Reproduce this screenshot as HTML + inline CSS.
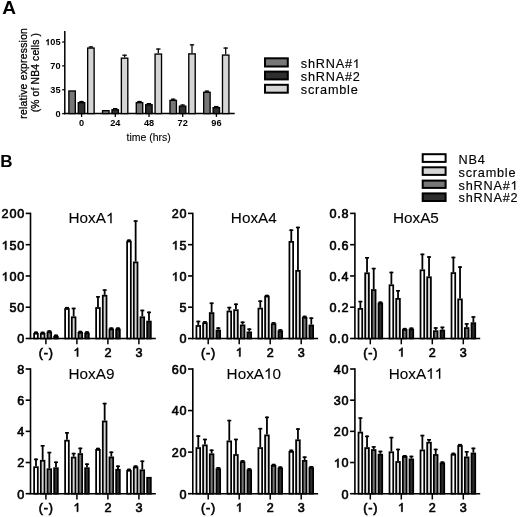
<!DOCTYPE html>
<html><head><meta charset="utf-8"><style>
html,body{margin:0;padding:0;background:#fff;}
svg{display:block;filter:grayscale(1) blur(0.3px);}
text{font-family:"Liberation Sans", sans-serif;fill:#000;}
</style></head><body>
<svg width="520" height="517" viewBox="0 0 520 517">
<rect width="520" height="517" fill="#fff"/>
<text transform="translate(2.20,13.70) scale(1.09,1)" font-size="17.5" text-anchor="start" font-weight="bold" >A</text>
<line x1="64.8" y1="31" x2="64.8" y2="114.3" stroke="#000" stroke-width="1.5"/>
<line x1="64.05" y1="113.6" x2="234.7" y2="113.6" stroke="#000" stroke-width="1.5"/>
<line x1="62.199999999999996" y1="113.60" x2="64.8" y2="113.60" stroke="#000" stroke-width="1.3"/>
<text x="60.50" y="116.90" font-size="9.2" text-anchor="end" font-weight="bold" >0</text>
<line x1="62.199999999999996" y1="89.73" x2="64.8" y2="89.73" stroke="#000" stroke-width="1.3"/>
<text x="60.50" y="93.03" font-size="9.2" text-anchor="end" font-weight="bold" >35</text>
<line x1="62.199999999999996" y1="65.87" x2="64.8" y2="65.87" stroke="#000" stroke-width="1.3"/>
<text x="60.50" y="69.17" font-size="9.2" text-anchor="end" font-weight="bold" >70</text>
<line x1="62.199999999999996" y1="42.00" x2="64.8" y2="42.00" stroke="#000" stroke-width="1.3"/>
<text id="one0" x="60.50" y="45.30" font-size="9.2" text-anchor="end" font-weight="bold" > 05</text>
<path transform="translate(45.16,45.30) scale(0.00449,-0.00449)" d="M809 0L528 0L528 1000Q374 862 165 795L165 1037Q275 1072 404 1168Q533 1265 581 1409L809 1409Z"/>
<rect x="68.87" y="90.97" width="6.45" height="22.62" fill="#777777" stroke="#000" stroke-width="1.35"/>
<line x1="81.50" y1="102.00" x2="81.50" y2="100.90" stroke="#000" stroke-width="1.25"/>
<line x1="79.30" y1="101.55" x2="83.70" y2="101.55" stroke="#000" stroke-width="1.3"/>
<rect x="78.27" y="102.67" width="6.45" height="10.92" fill="#2e2e2e" stroke="#000" stroke-width="1.35"/>
<line x1="90.90" y1="47.40" x2="90.90" y2="46.30" stroke="#000" stroke-width="1.25"/>
<line x1="88.70" y1="46.95" x2="93.10" y2="46.95" stroke="#000" stroke-width="1.3"/>
<rect x="87.67" y="48.07" width="6.45" height="65.52" fill="#d5d5d5" stroke="#000" stroke-width="1.35"/>
<line x1="81.60" y1="113.6" x2="81.60" y2="116.89999999999999" stroke="#000" stroke-width="1.3"/>
<text x="81.60" y="126.00" font-size="9.2" text-anchor="middle" font-weight="bold" >0</text>
<rect x="102.57" y="110.67" width="6.45" height="2.92" fill="#777777" stroke="#000" stroke-width="1.35"/>
<line x1="115.20" y1="109.10" x2="115.20" y2="108.00" stroke="#000" stroke-width="1.25"/>
<line x1="113.00" y1="108.65" x2="117.40" y2="108.65" stroke="#000" stroke-width="1.3"/>
<rect x="111.97" y="109.77" width="6.45" height="3.83" fill="#2e2e2e" stroke="#000" stroke-width="1.35"/>
<line x1="124.60" y1="57.50" x2="124.60" y2="54.60" stroke="#000" stroke-width="1.25"/>
<line x1="122.40" y1="55.25" x2="126.80" y2="55.25" stroke="#000" stroke-width="1.3"/>
<rect x="121.37" y="58.17" width="6.45" height="55.42" fill="#d5d5d5" stroke="#000" stroke-width="1.35"/>
<line x1="115.30" y1="113.6" x2="115.30" y2="116.89999999999999" stroke="#000" stroke-width="1.3"/>
<text x="115.30" y="126.00" font-size="9.2" text-anchor="middle" font-weight="bold" >24</text>
<line x1="139.50" y1="102.00" x2="139.50" y2="100.90" stroke="#000" stroke-width="1.25"/>
<line x1="137.30" y1="101.55" x2="141.70" y2="101.55" stroke="#000" stroke-width="1.3"/>
<rect x="136.28" y="102.67" width="6.45" height="10.92" fill="#777777" stroke="#000" stroke-width="1.35"/>
<line x1="148.90" y1="104.10" x2="148.90" y2="103.00" stroke="#000" stroke-width="1.25"/>
<line x1="146.70" y1="103.65" x2="151.10" y2="103.65" stroke="#000" stroke-width="1.3"/>
<rect x="145.68" y="104.77" width="6.45" height="8.82" fill="#2e2e2e" stroke="#000" stroke-width="1.35"/>
<line x1="158.30" y1="53.40" x2="158.30" y2="48.40" stroke="#000" stroke-width="1.25"/>
<line x1="156.10" y1="49.05" x2="160.50" y2="49.05" stroke="#000" stroke-width="1.3"/>
<rect x="155.08" y="54.07" width="6.45" height="59.52" fill="#d5d5d5" stroke="#000" stroke-width="1.35"/>
<line x1="149.00" y1="113.6" x2="149.00" y2="116.89999999999999" stroke="#000" stroke-width="1.3"/>
<text x="149.00" y="126.00" font-size="9.2" text-anchor="middle" font-weight="bold" >48</text>
<line x1="173.20" y1="99.70" x2="173.20" y2="98.60" stroke="#000" stroke-width="1.25"/>
<line x1="171.00" y1="99.25" x2="175.40" y2="99.25" stroke="#000" stroke-width="1.3"/>
<rect x="169.97" y="100.38" width="6.45" height="13.22" fill="#777777" stroke="#000" stroke-width="1.35"/>
<line x1="182.60" y1="105.50" x2="182.60" y2="104.40" stroke="#000" stroke-width="1.25"/>
<line x1="180.40" y1="105.05" x2="184.80" y2="105.05" stroke="#000" stroke-width="1.3"/>
<rect x="179.38" y="106.17" width="6.45" height="7.42" fill="#2e2e2e" stroke="#000" stroke-width="1.35"/>
<line x1="192.00" y1="53.20" x2="192.00" y2="44.20" stroke="#000" stroke-width="1.25"/>
<line x1="189.80" y1="44.85" x2="194.20" y2="44.85" stroke="#000" stroke-width="1.3"/>
<rect x="188.78" y="53.88" width="6.45" height="59.72" fill="#d5d5d5" stroke="#000" stroke-width="1.35"/>
<line x1="182.70" y1="113.6" x2="182.70" y2="116.89999999999999" stroke="#000" stroke-width="1.3"/>
<text x="182.70" y="126.00" font-size="9.2" text-anchor="middle" font-weight="bold" >72</text>
<line x1="206.90" y1="91.60" x2="206.90" y2="90.50" stroke="#000" stroke-width="1.25"/>
<line x1="204.70" y1="91.15" x2="209.10" y2="91.15" stroke="#000" stroke-width="1.3"/>
<rect x="203.68" y="92.27" width="6.45" height="21.32" fill="#777777" stroke="#000" stroke-width="1.35"/>
<line x1="216.30" y1="107.00" x2="216.30" y2="105.90" stroke="#000" stroke-width="1.25"/>
<line x1="214.10" y1="106.55" x2="218.50" y2="106.55" stroke="#000" stroke-width="1.3"/>
<rect x="213.08" y="107.67" width="6.45" height="5.92" fill="#2e2e2e" stroke="#000" stroke-width="1.35"/>
<line x1="225.70" y1="54.40" x2="225.70" y2="47.40" stroke="#000" stroke-width="1.25"/>
<line x1="223.50" y1="48.05" x2="227.90" y2="48.05" stroke="#000" stroke-width="1.3"/>
<rect x="222.48" y="55.07" width="6.45" height="58.52" fill="#d5d5d5" stroke="#000" stroke-width="1.35"/>
<line x1="216.40" y1="113.6" x2="216.40" y2="116.89999999999999" stroke="#000" stroke-width="1.3"/>
<text x="216.40" y="126.00" font-size="9.2" text-anchor="middle" font-weight="bold" >96</text>
<text x="148.70" y="140.50" font-size="10.5" text-anchor="middle" font-weight="normal" stroke="#000" stroke-width="0.1" >time (hrs)</text>
<text transform="translate(26.8,73.3) rotate(-90)" font-size="10.3" letter-spacing="0.26" stroke="#000" stroke-width="0.3" text-anchor="middle">relative expression</text>
<text transform="translate(39.0,72.6) rotate(-90)" font-size="10.3" letter-spacing="0.16" stroke="#000" stroke-width="0.3" text-anchor="middle">(% of NB4 cells )</text>
<rect x="265" y="58.3" width="22.8" height="8.200000000000003" fill="#777777" stroke="#000" stroke-width="2"/>
<rect x="265" y="71.6" width="22.8" height="7.800000000000011" fill="#2e2e2e" stroke="#000" stroke-width="2"/>
<rect x="265" y="84.8" width="22.8" height="7.900000000000006" fill="#d5d5d5" stroke="#000" stroke-width="2"/>
<text id="one1" x="300.80" y="68.00" font-size="12.7" text-anchor="start" font-weight="normal" stroke="#000" stroke-width="0.15" letter-spacing="0.78">shRNA# </text>
<path transform="translate(352.72,68.00) scale(0.00620,-0.00620)" d="M763 0L583 0L583 1110Q518 1050 413 990Q308 930 223 898L223 1066Q374 1135 487 1233Q600 1331 647 1409L763 1409Z" stroke="#000" stroke-width="24.2"/>
<text x="300.80" y="80.70" font-size="12.7" text-anchor="start" font-weight="normal" stroke="#000" stroke-width="0.15" letter-spacing="0.78">shRNA#2</text>
<text x="300.80" y="94.00" font-size="12.7" text-anchor="start" font-weight="normal" stroke="#000" stroke-width="0.15" letter-spacing="0.78">scramble</text>
<text x="0.30" y="167.30" font-size="17" text-anchor="start" font-weight="bold" >B</text>
<rect x="422.7" y="154.2" width="22.9" height="7.700000000000017" fill="#ffffff" stroke="#000" stroke-width="2"/>
<rect x="422.7" y="167.3" width="22.9" height="7.599999999999994" fill="#d5d5d5" stroke="#000" stroke-width="2"/>
<rect x="422.7" y="180.6" width="22.9" height="7.300000000000011" fill="#777777" stroke="#000" stroke-width="2"/>
<rect x="422.7" y="193.4" width="22.9" height="7.599999999999994" fill="#2e2e2e" stroke="#000" stroke-width="2"/>
<text x="458.60" y="163.50" font-size="12.7" text-anchor="start" font-weight="normal" stroke="#000" stroke-width="0.15" letter-spacing="0.78">NB4</text>
<text x="458.60" y="176.60" font-size="12.7" text-anchor="start" font-weight="normal" stroke="#000" stroke-width="0.15" letter-spacing="0.78">scramble</text>
<text id="one2" x="458.60" y="189.70" font-size="12.7" text-anchor="start" font-weight="normal" stroke="#000" stroke-width="0.15" letter-spacing="0.78">shRNA# </text>
<path transform="translate(510.52,189.70) scale(0.00620,-0.00620)" d="M763 0L583 0L583 1110Q518 1050 413 990Q308 930 223 898L223 1066Q374 1135 487 1233Q600 1331 647 1409L763 1409Z" stroke="#000" stroke-width="24.2"/>
<text x="458.60" y="202.10" font-size="12.7" text-anchor="start" font-weight="normal" stroke="#000" stroke-width="0.15" letter-spacing="0.78">shRNA#2</text>
<line x1="30.5" y1="212.70000000000002" x2="30.5" y2="339.2" stroke="#000" stroke-width="1.6"/>
<line x1="30.5" y1="338.5" x2="155.8" y2="338.5" stroke="#000" stroke-width="1.5"/>
<line x1="25.7" y1="338.50" x2="30.5" y2="338.50" stroke="#000" stroke-width="1.6"/>
<text x="25.00" y="343.40" font-size="12.6" text-anchor="end" font-weight="normal" stroke="#000" stroke-width="0.62" letter-spacing="0.8">0</text>
<line x1="25.7" y1="307.23" x2="30.5" y2="307.23" stroke="#000" stroke-width="1.6"/>
<text x="25.00" y="312.12" font-size="12.6" text-anchor="end" font-weight="normal" stroke="#000" stroke-width="0.62" letter-spacing="0.8">50</text>
<line x1="25.7" y1="275.95" x2="30.5" y2="275.95" stroke="#000" stroke-width="1.6"/>
<text id="one3" x="25.00" y="280.85" font-size="12.6" text-anchor="end" font-weight="normal" stroke="#000" stroke-width="0.62" letter-spacing="0.8"> 00</text>
<path transform="translate(1.58,280.85) scale(0.00615,-0.00615)" d="M763 0L583 0L583 1110Q518 1050 413 990Q308 930 223 898L223 1066Q374 1135 487 1233Q600 1331 647 1409L763 1409Z" stroke="#000" stroke-width="100.8"/>
<line x1="25.7" y1="244.68" x2="30.5" y2="244.68" stroke="#000" stroke-width="1.6"/>
<text id="one4" x="25.00" y="249.58" font-size="12.6" text-anchor="end" font-weight="normal" stroke="#000" stroke-width="0.62" letter-spacing="0.8"> 50</text>
<path transform="translate(1.58,249.58) scale(0.00615,-0.00615)" d="M763 0L583 0L583 1110Q518 1050 413 990Q308 930 223 898L223 1066Q374 1135 487 1233Q600 1331 647 1409L763 1409Z" stroke="#000" stroke-width="100.8"/>
<line x1="25.7" y1="213.40" x2="30.5" y2="213.40" stroke="#000" stroke-width="1.6"/>
<text x="25.00" y="218.30" font-size="12.6" text-anchor="end" font-weight="normal" stroke="#000" stroke-width="0.62" letter-spacing="0.8">200</text>
<text id="one5" x="91.50" y="223.20" font-size="15.3" text-anchor="middle" font-weight="normal" stroke="#000" stroke-width="0.1" >HoxA </text>
<path transform="translate(105.93,223.20) scale(0.00747,-0.00747)" d="M763 0L583 0L583 1110Q518 1050 413 990Q308 930 223 898L223 1066Q374 1135 487 1233Q600 1331 647 1409L763 1409Z" stroke="#000" stroke-width="13.4"/>
<line x1="35.98" y1="332.80" x2="35.98" y2="331.60" stroke="#000" stroke-width="1.8"/>
<line x1="33.98" y1="332.40" x2="37.98" y2="332.40" stroke="#000" stroke-width="1.6"/>
<rect x="34.12" y="333.68" width="3.70" height="4.82" fill="#ffffff" stroke="#000" stroke-width="1.75"/>
<line x1="42.65" y1="332.90" x2="42.65" y2="331.70" stroke="#000" stroke-width="1.8"/>
<line x1="40.65" y1="332.50" x2="44.65" y2="332.50" stroke="#000" stroke-width="1.6"/>
<rect x="40.80" y="333.77" width="3.70" height="4.73" fill="#d5d5d5" stroke="#000" stroke-width="1.75"/>
<line x1="49.32" y1="331.50" x2="49.32" y2="330.30" stroke="#000" stroke-width="1.8"/>
<line x1="47.32" y1="331.10" x2="51.32" y2="331.10" stroke="#000" stroke-width="1.6"/>
<rect x="47.47" y="332.38" width="3.70" height="6.12" fill="#777777" stroke="#000" stroke-width="1.75"/>
<line x1="55.98" y1="335.80" x2="55.98" y2="334.60" stroke="#000" stroke-width="1.8"/>
<line x1="53.98" y1="335.40" x2="57.98" y2="335.40" stroke="#000" stroke-width="1.6"/>
<rect x="54.13" y="336.68" width="3.70" height="1.82" fill="#2e2e2e" stroke="#000" stroke-width="1.75"/>
<line x1="45.90" y1="338.5" x2="45.90" y2="344.3" stroke="#000" stroke-width="1.5"/>
<text x="46.30" y="356.50" font-size="12.6" text-anchor="middle" font-weight="normal" stroke="#000" stroke-width="0.62" letter-spacing="0.8">(-)</text>
<line x1="66.97" y1="308.10" x2="66.97" y2="306.90" stroke="#000" stroke-width="1.8"/>
<line x1="64.97" y1="307.70" x2="68.97" y2="307.70" stroke="#000" stroke-width="1.6"/>
<rect x="65.12" y="308.98" width="3.70" height="29.52" fill="#ffffff" stroke="#000" stroke-width="1.75"/>
<line x1="73.65" y1="316.40" x2="73.65" y2="307.70" stroke="#000" stroke-width="1.8"/>
<line x1="71.65" y1="308.50" x2="75.65" y2="308.50" stroke="#000" stroke-width="1.6"/>
<rect x="71.80" y="317.27" width="3.70" height="21.23" fill="#d5d5d5" stroke="#000" stroke-width="1.75"/>
<line x1="80.31" y1="332.00" x2="80.31" y2="330.80" stroke="#000" stroke-width="1.8"/>
<line x1="78.31" y1="331.60" x2="82.31" y2="331.60" stroke="#000" stroke-width="1.6"/>
<rect x="78.47" y="332.88" width="3.70" height="5.62" fill="#777777" stroke="#000" stroke-width="1.75"/>
<line x1="86.98" y1="332.50" x2="86.98" y2="331.30" stroke="#000" stroke-width="1.8"/>
<line x1="84.98" y1="332.10" x2="88.98" y2="332.10" stroke="#000" stroke-width="1.6"/>
<rect x="85.13" y="333.38" width="3.70" height="5.12" fill="#2e2e2e" stroke="#000" stroke-width="1.75"/>
<line x1="76.90" y1="338.5" x2="76.90" y2="344.3" stroke="#000" stroke-width="1.5"/>
<text id="one6" x="77.30" y="356.50" font-size="12.6" text-anchor="middle" font-weight="normal" stroke="#000" stroke-width="0.62" letter-spacing="0.8"> </text>
<path transform="translate(73.39,356.50) scale(0.00615,-0.00615)" d="M763 0L583 0L583 1110Q518 1050 413 990Q308 930 223 898L223 1066Q374 1135 487 1233Q600 1331 647 1409L763 1409Z" stroke="#000" stroke-width="100.8"/>
<line x1="97.97" y1="307.10" x2="97.97" y2="296.10" stroke="#000" stroke-width="1.8"/>
<line x1="95.97" y1="296.90" x2="99.97" y2="296.90" stroke="#000" stroke-width="1.6"/>
<rect x="96.12" y="307.98" width="3.70" height="30.52" fill="#ffffff" stroke="#000" stroke-width="1.75"/>
<line x1="104.65" y1="294.80" x2="104.65" y2="289.30" stroke="#000" stroke-width="1.8"/>
<line x1="102.65" y1="290.10" x2="106.65" y2="290.10" stroke="#000" stroke-width="1.6"/>
<rect x="102.80" y="295.68" width="3.70" height="42.82" fill="#d5d5d5" stroke="#000" stroke-width="1.75"/>
<line x1="111.31" y1="328.60" x2="111.31" y2="327.40" stroke="#000" stroke-width="1.8"/>
<line x1="109.31" y1="328.20" x2="113.31" y2="328.20" stroke="#000" stroke-width="1.6"/>
<rect x="109.47" y="329.48" width="3.70" height="9.02" fill="#777777" stroke="#000" stroke-width="1.75"/>
<line x1="117.98" y1="328.60" x2="117.98" y2="327.40" stroke="#000" stroke-width="1.8"/>
<line x1="115.98" y1="328.20" x2="119.98" y2="328.20" stroke="#000" stroke-width="1.6"/>
<rect x="116.13" y="329.48" width="3.70" height="9.02" fill="#2e2e2e" stroke="#000" stroke-width="1.75"/>
<line x1="107.90" y1="338.5" x2="107.90" y2="344.3" stroke="#000" stroke-width="1.5"/>
<text x="108.30" y="356.50" font-size="12.6" text-anchor="middle" font-weight="normal" stroke="#000" stroke-width="0.62" letter-spacing="0.8">2</text>
<line x1="128.97" y1="240.70" x2="128.97" y2="239.50" stroke="#000" stroke-width="1.8"/>
<line x1="126.97" y1="240.30" x2="130.97" y2="240.30" stroke="#000" stroke-width="1.6"/>
<rect x="127.12" y="241.57" width="3.70" height="96.93" fill="#ffffff" stroke="#000" stroke-width="1.75"/>
<line x1="135.64" y1="261.50" x2="135.64" y2="220.30" stroke="#000" stroke-width="1.8"/>
<line x1="133.64" y1="221.10" x2="137.64" y2="221.10" stroke="#000" stroke-width="1.6"/>
<rect x="133.79" y="262.38" width="3.70" height="76.12" fill="#d5d5d5" stroke="#000" stroke-width="1.75"/>
<line x1="142.31" y1="316.40" x2="142.31" y2="309.70" stroke="#000" stroke-width="1.8"/>
<line x1="140.31" y1="310.50" x2="144.31" y2="310.50" stroke="#000" stroke-width="1.6"/>
<rect x="140.47" y="317.27" width="3.70" height="21.23" fill="#777777" stroke="#000" stroke-width="1.75"/>
<line x1="148.98" y1="320.70" x2="148.98" y2="311.60" stroke="#000" stroke-width="1.8"/>
<line x1="146.98" y1="312.40" x2="150.98" y2="312.40" stroke="#000" stroke-width="1.6"/>
<rect x="147.13" y="321.57" width="3.70" height="16.93" fill="#2e2e2e" stroke="#000" stroke-width="1.75"/>
<line x1="138.90" y1="338.5" x2="138.90" y2="344.3" stroke="#000" stroke-width="1.5"/>
<text x="139.30" y="356.50" font-size="12.6" text-anchor="middle" font-weight="normal" stroke="#000" stroke-width="0.62" letter-spacing="0.8">3</text>
<line x1="192.8" y1="212.70000000000002" x2="192.8" y2="339.2" stroke="#000" stroke-width="1.6"/>
<line x1="192.8" y1="338.5" x2="318.1" y2="338.5" stroke="#000" stroke-width="1.5"/>
<line x1="188.0" y1="338.50" x2="192.8" y2="338.50" stroke="#000" stroke-width="1.6"/>
<text x="187.30" y="343.40" font-size="12.6" text-anchor="end" font-weight="normal" stroke="#000" stroke-width="0.62" letter-spacing="0.8">0</text>
<line x1="188.0" y1="307.23" x2="192.8" y2="307.23" stroke="#000" stroke-width="1.6"/>
<text x="187.30" y="312.12" font-size="12.6" text-anchor="end" font-weight="normal" stroke="#000" stroke-width="0.62" letter-spacing="0.8">5</text>
<line x1="188.0" y1="275.95" x2="192.8" y2="275.95" stroke="#000" stroke-width="1.6"/>
<text id="one7" x="187.30" y="280.85" font-size="12.6" text-anchor="end" font-weight="normal" stroke="#000" stroke-width="0.62" letter-spacing="0.8"> 0</text>
<path transform="translate(171.69,280.85) scale(0.00615,-0.00615)" d="M763 0L583 0L583 1110Q518 1050 413 990Q308 930 223 898L223 1066Q374 1135 487 1233Q600 1331 647 1409L763 1409Z" stroke="#000" stroke-width="100.8"/>
<line x1="188.0" y1="244.68" x2="192.8" y2="244.68" stroke="#000" stroke-width="1.6"/>
<text id="one8" x="187.30" y="249.58" font-size="12.6" text-anchor="end" font-weight="normal" stroke="#000" stroke-width="0.62" letter-spacing="0.8"> 5</text>
<path transform="translate(171.69,249.58) scale(0.00615,-0.00615)" d="M763 0L583 0L583 1110Q518 1050 413 990Q308 930 223 898L223 1066Q374 1135 487 1233Q600 1331 647 1409L763 1409Z" stroke="#000" stroke-width="100.8"/>
<line x1="188.0" y1="213.40" x2="192.8" y2="213.40" stroke="#000" stroke-width="1.6"/>
<text x="187.30" y="218.30" font-size="12.6" text-anchor="end" font-weight="normal" stroke="#000" stroke-width="0.62" letter-spacing="0.8">20</text>
<text x="253.80" y="223.20" font-size="15.3" text-anchor="middle" font-weight="normal" stroke="#000" stroke-width="0.1" >HoxA4</text>
<line x1="198.28" y1="325.10" x2="198.28" y2="320.70" stroke="#000" stroke-width="1.8"/>
<line x1="196.28" y1="321.50" x2="200.28" y2="321.50" stroke="#000" stroke-width="1.6"/>
<rect x="196.43" y="325.98" width="3.70" height="12.52" fill="#ffffff" stroke="#000" stroke-width="1.75"/>
<line x1="204.94" y1="322.30" x2="204.94" y2="321.10" stroke="#000" stroke-width="1.8"/>
<line x1="202.94" y1="321.90" x2="206.94" y2="321.90" stroke="#000" stroke-width="1.6"/>
<rect x="203.09" y="323.18" width="3.70" height="15.32" fill="#d5d5d5" stroke="#000" stroke-width="1.75"/>
<line x1="211.62" y1="312.20" x2="211.62" y2="302.50" stroke="#000" stroke-width="1.8"/>
<line x1="209.62" y1="303.30" x2="213.62" y2="303.30" stroke="#000" stroke-width="1.6"/>
<rect x="209.77" y="313.07" width="3.70" height="25.43" fill="#777777" stroke="#000" stroke-width="1.75"/>
<line x1="218.28" y1="329.60" x2="218.28" y2="327.30" stroke="#000" stroke-width="1.8"/>
<line x1="216.28" y1="328.10" x2="220.28" y2="328.10" stroke="#000" stroke-width="1.6"/>
<rect x="216.44" y="330.48" width="3.70" height="8.02" fill="#2e2e2e" stroke="#000" stroke-width="1.75"/>
<line x1="208.20" y1="338.5" x2="208.20" y2="344.3" stroke="#000" stroke-width="1.5"/>
<text x="208.60" y="356.50" font-size="12.6" text-anchor="middle" font-weight="normal" stroke="#000" stroke-width="0.62" letter-spacing="0.8">(-)</text>
<line x1="229.28" y1="310.60" x2="229.28" y2="306.80" stroke="#000" stroke-width="1.8"/>
<line x1="227.28" y1="307.60" x2="231.28" y2="307.60" stroke="#000" stroke-width="1.6"/>
<rect x="227.43" y="311.48" width="3.70" height="27.02" fill="#ffffff" stroke="#000" stroke-width="1.75"/>
<line x1="235.94" y1="309.30" x2="235.94" y2="303.50" stroke="#000" stroke-width="1.8"/>
<line x1="233.94" y1="304.30" x2="237.94" y2="304.30" stroke="#000" stroke-width="1.6"/>
<rect x="234.09" y="310.18" width="3.70" height="28.32" fill="#d5d5d5" stroke="#000" stroke-width="1.75"/>
<line x1="242.62" y1="324.50" x2="242.62" y2="321.50" stroke="#000" stroke-width="1.8"/>
<line x1="240.62" y1="322.30" x2="244.62" y2="322.30" stroke="#000" stroke-width="1.6"/>
<rect x="240.77" y="325.38" width="3.70" height="13.12" fill="#777777" stroke="#000" stroke-width="1.75"/>
<line x1="249.28" y1="331.50" x2="249.28" y2="328.40" stroke="#000" stroke-width="1.8"/>
<line x1="247.28" y1="329.20" x2="251.28" y2="329.20" stroke="#000" stroke-width="1.6"/>
<rect x="247.44" y="332.38" width="3.70" height="6.12" fill="#2e2e2e" stroke="#000" stroke-width="1.75"/>
<line x1="239.20" y1="338.5" x2="239.20" y2="344.3" stroke="#000" stroke-width="1.5"/>
<text id="one9" x="239.60" y="356.50" font-size="12.6" text-anchor="middle" font-weight="normal" stroke="#000" stroke-width="0.62" letter-spacing="0.8"> </text>
<path transform="translate(235.69,356.50) scale(0.00615,-0.00615)" d="M763 0L583 0L583 1110Q518 1050 413 990Q308 930 223 898L223 1066Q374 1135 487 1233Q600 1331 647 1409L763 1409Z" stroke="#000" stroke-width="100.8"/>
<line x1="260.28" y1="307.70" x2="260.28" y2="300.40" stroke="#000" stroke-width="1.8"/>
<line x1="258.28" y1="301.20" x2="262.28" y2="301.20" stroke="#000" stroke-width="1.6"/>
<rect x="258.43" y="308.57" width="3.70" height="29.93" fill="#ffffff" stroke="#000" stroke-width="1.75"/>
<line x1="266.95" y1="295.70" x2="266.95" y2="294.80" stroke="#000" stroke-width="1.8"/>
<line x1="264.95" y1="295.60" x2="268.95" y2="295.60" stroke="#000" stroke-width="1.6"/>
<rect x="265.10" y="296.57" width="3.70" height="41.93" fill="#d5d5d5" stroke="#000" stroke-width="1.75"/>
<line x1="273.62" y1="323.30" x2="273.62" y2="322.10" stroke="#000" stroke-width="1.8"/>
<line x1="271.62" y1="322.90" x2="275.62" y2="322.90" stroke="#000" stroke-width="1.6"/>
<rect x="271.77" y="324.18" width="3.70" height="14.32" fill="#777777" stroke="#000" stroke-width="1.75"/>
<line x1="280.29" y1="330.40" x2="280.29" y2="329.20" stroke="#000" stroke-width="1.8"/>
<line x1="278.29" y1="330.00" x2="282.29" y2="330.00" stroke="#000" stroke-width="1.6"/>
<rect x="278.44" y="331.27" width="3.70" height="7.23" fill="#2e2e2e" stroke="#000" stroke-width="1.75"/>
<line x1="270.20" y1="338.5" x2="270.20" y2="344.3" stroke="#000" stroke-width="1.5"/>
<text x="270.60" y="356.50" font-size="12.6" text-anchor="middle" font-weight="normal" stroke="#000" stroke-width="0.62" letter-spacing="0.8">2</text>
<line x1="291.28" y1="241.00" x2="291.28" y2="229.40" stroke="#000" stroke-width="1.8"/>
<line x1="289.28" y1="230.20" x2="293.28" y2="230.20" stroke="#000" stroke-width="1.6"/>
<rect x="289.43" y="241.88" width="3.70" height="96.62" fill="#ffffff" stroke="#000" stroke-width="1.75"/>
<line x1="297.95" y1="270.00" x2="297.95" y2="226.70" stroke="#000" stroke-width="1.8"/>
<line x1="295.95" y1="227.50" x2="299.95" y2="227.50" stroke="#000" stroke-width="1.6"/>
<rect x="296.10" y="270.88" width="3.70" height="67.62" fill="#d5d5d5" stroke="#000" stroke-width="1.75"/>
<line x1="304.62" y1="316.90" x2="304.62" y2="315.70" stroke="#000" stroke-width="1.8"/>
<line x1="302.62" y1="316.50" x2="306.62" y2="316.50" stroke="#000" stroke-width="1.6"/>
<rect x="302.77" y="317.77" width="3.70" height="20.73" fill="#777777" stroke="#000" stroke-width="1.75"/>
<line x1="311.29" y1="324.60" x2="311.29" y2="317.40" stroke="#000" stroke-width="1.8"/>
<line x1="309.29" y1="318.20" x2="313.29" y2="318.20" stroke="#000" stroke-width="1.6"/>
<rect x="309.44" y="325.48" width="3.70" height="13.02" fill="#2e2e2e" stroke="#000" stroke-width="1.75"/>
<line x1="301.20" y1="338.5" x2="301.20" y2="344.3" stroke="#000" stroke-width="1.5"/>
<text x="301.60" y="356.50" font-size="12.6" text-anchor="middle" font-weight="normal" stroke="#000" stroke-width="0.62" letter-spacing="0.8">3</text>
<line x1="354.9" y1="212.70000000000002" x2="354.9" y2="339.2" stroke="#000" stroke-width="1.6"/>
<line x1="354.9" y1="338.5" x2="480.2" y2="338.5" stroke="#000" stroke-width="1.5"/>
<line x1="350.09999999999997" y1="338.50" x2="354.9" y2="338.50" stroke="#000" stroke-width="1.6"/>
<text x="349.40" y="343.40" font-size="12.6" text-anchor="end" font-weight="normal" stroke="#000" stroke-width="0.62" letter-spacing="0.8">0.0</text>
<line x1="350.09999999999997" y1="307.23" x2="354.9" y2="307.23" stroke="#000" stroke-width="1.6"/>
<text x="349.40" y="312.12" font-size="12.6" text-anchor="end" font-weight="normal" stroke="#000" stroke-width="0.62" letter-spacing="0.8">0.2</text>
<line x1="350.09999999999997" y1="275.95" x2="354.9" y2="275.95" stroke="#000" stroke-width="1.6"/>
<text x="349.40" y="280.85" font-size="12.6" text-anchor="end" font-weight="normal" stroke="#000" stroke-width="0.62" letter-spacing="0.8">0.4</text>
<line x1="350.09999999999997" y1="244.68" x2="354.9" y2="244.68" stroke="#000" stroke-width="1.6"/>
<text x="349.40" y="249.58" font-size="12.6" text-anchor="end" font-weight="normal" stroke="#000" stroke-width="0.62" letter-spacing="0.8">0.6</text>
<line x1="350.09999999999997" y1="213.40" x2="354.9" y2="213.40" stroke="#000" stroke-width="1.6"/>
<text x="349.40" y="218.30" font-size="12.6" text-anchor="end" font-weight="normal" stroke="#000" stroke-width="0.62" letter-spacing="0.8">0.8</text>
<text x="415.90" y="223.20" font-size="15.3" text-anchor="middle" font-weight="normal" stroke="#000" stroke-width="0.1" >HoxA5</text>
<line x1="360.38" y1="308.00" x2="360.38" y2="300.80" stroke="#000" stroke-width="1.8"/>
<line x1="358.38" y1="301.60" x2="362.38" y2="301.60" stroke="#000" stroke-width="1.6"/>
<rect x="358.52" y="308.88" width="3.70" height="29.62" fill="#ffffff" stroke="#000" stroke-width="1.75"/>
<line x1="367.04" y1="272.40" x2="367.04" y2="257.00" stroke="#000" stroke-width="1.8"/>
<line x1="365.04" y1="257.80" x2="369.04" y2="257.80" stroke="#000" stroke-width="1.6"/>
<rect x="365.19" y="273.27" width="3.70" height="65.23" fill="#d5d5d5" stroke="#000" stroke-width="1.75"/>
<line x1="373.71" y1="289.20" x2="373.71" y2="267.80" stroke="#000" stroke-width="1.8"/>
<line x1="371.71" y1="268.60" x2="375.71" y2="268.60" stroke="#000" stroke-width="1.6"/>
<rect x="371.86" y="290.07" width="3.70" height="48.43" fill="#777777" stroke="#000" stroke-width="1.75"/>
<line x1="380.38" y1="302.70" x2="380.38" y2="301.50" stroke="#000" stroke-width="1.8"/>
<line x1="378.38" y1="302.30" x2="382.38" y2="302.30" stroke="#000" stroke-width="1.6"/>
<rect x="378.53" y="303.57" width="3.70" height="34.93" fill="#2e2e2e" stroke="#000" stroke-width="1.75"/>
<line x1="370.30" y1="338.5" x2="370.30" y2="344.3" stroke="#000" stroke-width="1.5"/>
<text x="370.70" y="356.50" font-size="12.6" text-anchor="middle" font-weight="normal" stroke="#000" stroke-width="0.62" letter-spacing="0.8">(-)</text>
<line x1="391.38" y1="284.40" x2="391.38" y2="271.70" stroke="#000" stroke-width="1.8"/>
<line x1="389.38" y1="272.50" x2="393.38" y2="272.50" stroke="#000" stroke-width="1.6"/>
<rect x="389.52" y="285.27" width="3.70" height="53.23" fill="#ffffff" stroke="#000" stroke-width="1.75"/>
<line x1="398.04" y1="298.00" x2="398.04" y2="290.00" stroke="#000" stroke-width="1.8"/>
<line x1="396.04" y1="290.80" x2="400.04" y2="290.80" stroke="#000" stroke-width="1.6"/>
<rect x="396.19" y="298.88" width="3.70" height="39.62" fill="#d5d5d5" stroke="#000" stroke-width="1.75"/>
<line x1="404.71" y1="329.10" x2="404.71" y2="327.90" stroke="#000" stroke-width="1.8"/>
<line x1="402.71" y1="328.70" x2="406.71" y2="328.70" stroke="#000" stroke-width="1.6"/>
<rect x="402.86" y="329.98" width="3.70" height="8.52" fill="#777777" stroke="#000" stroke-width="1.75"/>
<line x1="411.38" y1="328.70" x2="411.38" y2="327.50" stroke="#000" stroke-width="1.8"/>
<line x1="409.38" y1="328.30" x2="413.38" y2="328.30" stroke="#000" stroke-width="1.6"/>
<rect x="409.53" y="329.57" width="3.70" height="8.93" fill="#2e2e2e" stroke="#000" stroke-width="1.75"/>
<line x1="401.30" y1="338.5" x2="401.30" y2="344.3" stroke="#000" stroke-width="1.5"/>
<text id="one10" x="401.70" y="356.50" font-size="12.6" text-anchor="middle" font-weight="normal" stroke="#000" stroke-width="0.62" letter-spacing="0.8"> </text>
<path transform="translate(397.79,356.50) scale(0.00615,-0.00615)" d="M763 0L583 0L583 1110Q518 1050 413 990Q308 930 223 898L223 1066Q374 1135 487 1233Q600 1331 647 1409L763 1409Z" stroke="#000" stroke-width="100.8"/>
<line x1="422.38" y1="269.40" x2="422.38" y2="253.60" stroke="#000" stroke-width="1.8"/>
<line x1="420.38" y1="254.40" x2="424.38" y2="254.40" stroke="#000" stroke-width="1.6"/>
<rect x="420.52" y="270.27" width="3.70" height="68.23" fill="#ffffff" stroke="#000" stroke-width="1.75"/>
<line x1="429.04" y1="276.40" x2="429.04" y2="256.20" stroke="#000" stroke-width="1.8"/>
<line x1="427.04" y1="257.00" x2="431.04" y2="257.00" stroke="#000" stroke-width="1.6"/>
<rect x="427.19" y="277.27" width="3.70" height="61.23" fill="#d5d5d5" stroke="#000" stroke-width="1.75"/>
<line x1="435.71" y1="330.30" x2="435.71" y2="327.20" stroke="#000" stroke-width="1.8"/>
<line x1="433.71" y1="328.00" x2="437.71" y2="328.00" stroke="#000" stroke-width="1.6"/>
<rect x="433.86" y="331.18" width="3.70" height="7.32" fill="#777777" stroke="#000" stroke-width="1.75"/>
<line x1="442.38" y1="329.70" x2="442.38" y2="326.60" stroke="#000" stroke-width="1.8"/>
<line x1="440.38" y1="327.40" x2="444.38" y2="327.40" stroke="#000" stroke-width="1.6"/>
<rect x="440.53" y="330.57" width="3.70" height="7.93" fill="#2e2e2e" stroke="#000" stroke-width="1.75"/>
<line x1="432.30" y1="338.5" x2="432.30" y2="344.3" stroke="#000" stroke-width="1.5"/>
<text x="432.70" y="356.50" font-size="12.6" text-anchor="middle" font-weight="normal" stroke="#000" stroke-width="0.62" letter-spacing="0.8">2</text>
<line x1="453.38" y1="272.20" x2="453.38" y2="256.70" stroke="#000" stroke-width="1.8"/>
<line x1="451.38" y1="257.50" x2="455.38" y2="257.50" stroke="#000" stroke-width="1.6"/>
<rect x="451.52" y="273.07" width="3.70" height="65.43" fill="#ffffff" stroke="#000" stroke-width="1.75"/>
<line x1="460.04" y1="298.50" x2="460.04" y2="266.30" stroke="#000" stroke-width="1.8"/>
<line x1="458.04" y1="267.10" x2="462.04" y2="267.10" stroke="#000" stroke-width="1.6"/>
<rect x="458.19" y="299.38" width="3.70" height="39.12" fill="#d5d5d5" stroke="#000" stroke-width="1.75"/>
<line x1="466.71" y1="327.20" x2="466.71" y2="323.10" stroke="#000" stroke-width="1.8"/>
<line x1="464.71" y1="323.90" x2="468.71" y2="323.90" stroke="#000" stroke-width="1.6"/>
<rect x="464.86" y="328.07" width="3.70" height="10.43" fill="#777777" stroke="#000" stroke-width="1.75"/>
<line x1="473.38" y1="322.30" x2="473.38" y2="316.20" stroke="#000" stroke-width="1.8"/>
<line x1="471.38" y1="317.00" x2="475.38" y2="317.00" stroke="#000" stroke-width="1.6"/>
<rect x="471.53" y="323.18" width="3.70" height="15.32" fill="#2e2e2e" stroke="#000" stroke-width="1.75"/>
<line x1="463.30" y1="338.5" x2="463.30" y2="344.3" stroke="#000" stroke-width="1.5"/>
<text x="463.70" y="356.50" font-size="12.6" text-anchor="middle" font-weight="normal" stroke="#000" stroke-width="0.62" letter-spacing="0.8">3</text>
<line x1="30.5" y1="368.3" x2="30.5" y2="494.4" stroke="#000" stroke-width="1.6"/>
<line x1="30.5" y1="493.7" x2="155.8" y2="493.7" stroke="#000" stroke-width="1.5"/>
<line x1="25.7" y1="493.70" x2="30.5" y2="493.70" stroke="#000" stroke-width="1.6"/>
<text x="25.00" y="498.60" font-size="12.6" text-anchor="end" font-weight="normal" stroke="#000" stroke-width="0.62" letter-spacing="0.8">0</text>
<line x1="25.7" y1="462.52" x2="30.5" y2="462.52" stroke="#000" stroke-width="1.6"/>
<text x="25.00" y="467.42" font-size="12.6" text-anchor="end" font-weight="normal" stroke="#000" stroke-width="0.62" letter-spacing="0.8">2</text>
<line x1="25.7" y1="431.35" x2="30.5" y2="431.35" stroke="#000" stroke-width="1.6"/>
<text x="25.00" y="436.25" font-size="12.6" text-anchor="end" font-weight="normal" stroke="#000" stroke-width="0.62" letter-spacing="0.8">4</text>
<line x1="25.7" y1="400.18" x2="30.5" y2="400.18" stroke="#000" stroke-width="1.6"/>
<text x="25.00" y="405.07" font-size="12.6" text-anchor="end" font-weight="normal" stroke="#000" stroke-width="0.62" letter-spacing="0.8">6</text>
<line x1="25.7" y1="369.00" x2="30.5" y2="369.00" stroke="#000" stroke-width="1.6"/>
<text x="25.00" y="373.90" font-size="12.6" text-anchor="end" font-weight="normal" stroke="#000" stroke-width="0.62" letter-spacing="0.8">8</text>
<text x="91.50" y="378.80" font-size="15.3" text-anchor="middle" font-weight="normal" stroke="#000" stroke-width="0.1" >HoxA9</text>
<line x1="35.98" y1="466.30" x2="35.98" y2="458.60" stroke="#000" stroke-width="1.8"/>
<line x1="33.98" y1="459.40" x2="37.98" y2="459.40" stroke="#000" stroke-width="1.6"/>
<rect x="34.12" y="467.18" width="3.70" height="26.52" fill="#ffffff" stroke="#000" stroke-width="1.75"/>
<line x1="42.65" y1="459.90" x2="42.65" y2="445.00" stroke="#000" stroke-width="1.8"/>
<line x1="40.65" y1="445.80" x2="44.65" y2="445.80" stroke="#000" stroke-width="1.6"/>
<rect x="40.80" y="460.77" width="3.70" height="32.93" fill="#d5d5d5" stroke="#000" stroke-width="1.75"/>
<line x1="49.32" y1="468.30" x2="49.32" y2="451.80" stroke="#000" stroke-width="1.8"/>
<line x1="47.32" y1="452.60" x2="51.32" y2="452.60" stroke="#000" stroke-width="1.6"/>
<rect x="47.47" y="469.18" width="3.70" height="24.52" fill="#777777" stroke="#000" stroke-width="1.75"/>
<line x1="55.98" y1="467.30" x2="55.98" y2="461.50" stroke="#000" stroke-width="1.8"/>
<line x1="53.98" y1="462.30" x2="57.98" y2="462.30" stroke="#000" stroke-width="1.6"/>
<rect x="54.13" y="468.18" width="3.70" height="25.52" fill="#2e2e2e" stroke="#000" stroke-width="1.75"/>
<line x1="45.90" y1="493.7" x2="45.90" y2="499.5" stroke="#000" stroke-width="1.5"/>
<text x="46.30" y="511.70" font-size="12.6" text-anchor="middle" font-weight="normal" stroke="#000" stroke-width="0.62" letter-spacing="0.8">(-)</text>
<line x1="66.97" y1="439.80" x2="66.97" y2="432.10" stroke="#000" stroke-width="1.8"/>
<line x1="64.97" y1="432.90" x2="68.97" y2="432.90" stroke="#000" stroke-width="1.6"/>
<rect x="65.12" y="440.68" width="3.70" height="53.02" fill="#ffffff" stroke="#000" stroke-width="1.75"/>
<line x1="73.65" y1="456.70" x2="73.65" y2="452.80" stroke="#000" stroke-width="1.8"/>
<line x1="71.65" y1="453.60" x2="75.65" y2="453.60" stroke="#000" stroke-width="1.6"/>
<rect x="71.80" y="457.57" width="3.70" height="36.12" fill="#d5d5d5" stroke="#000" stroke-width="1.75"/>
<line x1="80.31" y1="453.20" x2="80.31" y2="447.60" stroke="#000" stroke-width="1.8"/>
<line x1="78.31" y1="448.40" x2="82.31" y2="448.40" stroke="#000" stroke-width="1.6"/>
<rect x="78.47" y="454.07" width="3.70" height="39.62" fill="#777777" stroke="#000" stroke-width="1.75"/>
<line x1="86.98" y1="467.30" x2="86.98" y2="463.40" stroke="#000" stroke-width="1.8"/>
<line x1="84.98" y1="464.20" x2="88.98" y2="464.20" stroke="#000" stroke-width="1.6"/>
<rect x="85.13" y="468.18" width="3.70" height="25.52" fill="#2e2e2e" stroke="#000" stroke-width="1.75"/>
<line x1="76.90" y1="493.7" x2="76.90" y2="499.5" stroke="#000" stroke-width="1.5"/>
<text id="one11" x="77.30" y="511.70" font-size="12.6" text-anchor="middle" font-weight="normal" stroke="#000" stroke-width="0.62" letter-spacing="0.8"> </text>
<path transform="translate(73.39,511.70) scale(0.00615,-0.00615)" d="M763 0L583 0L583 1110Q518 1050 413 990Q308 930 223 898L223 1066Q374 1135 487 1233Q600 1331 647 1409L763 1409Z" stroke="#000" stroke-width="100.8"/>
<line x1="97.97" y1="449.00" x2="97.97" y2="447.80" stroke="#000" stroke-width="1.8"/>
<line x1="95.97" y1="448.60" x2="99.97" y2="448.60" stroke="#000" stroke-width="1.6"/>
<rect x="96.12" y="449.88" width="3.70" height="43.82" fill="#ffffff" stroke="#000" stroke-width="1.75"/>
<line x1="104.65" y1="420.60" x2="104.65" y2="402.80" stroke="#000" stroke-width="1.8"/>
<line x1="102.65" y1="403.60" x2="106.65" y2="403.60" stroke="#000" stroke-width="1.6"/>
<rect x="102.80" y="421.48" width="3.70" height="72.22" fill="#d5d5d5" stroke="#000" stroke-width="1.75"/>
<line x1="111.31" y1="456.50" x2="111.31" y2="451.50" stroke="#000" stroke-width="1.8"/>
<line x1="109.31" y1="452.30" x2="113.31" y2="452.30" stroke="#000" stroke-width="1.6"/>
<rect x="109.47" y="457.38" width="3.70" height="36.32" fill="#777777" stroke="#000" stroke-width="1.75"/>
<line x1="117.98" y1="468.90" x2="117.98" y2="465.50" stroke="#000" stroke-width="1.8"/>
<line x1="115.98" y1="466.30" x2="119.98" y2="466.30" stroke="#000" stroke-width="1.6"/>
<rect x="116.13" y="469.77" width="3.70" height="23.93" fill="#2e2e2e" stroke="#000" stroke-width="1.75"/>
<line x1="107.90" y1="493.7" x2="107.90" y2="499.5" stroke="#000" stroke-width="1.5"/>
<text x="108.30" y="511.70" font-size="12.6" text-anchor="middle" font-weight="normal" stroke="#000" stroke-width="0.62" letter-spacing="0.8">2</text>
<line x1="128.97" y1="469.90" x2="128.97" y2="468.70" stroke="#000" stroke-width="1.8"/>
<line x1="126.97" y1="469.50" x2="130.97" y2="469.50" stroke="#000" stroke-width="1.6"/>
<rect x="127.12" y="470.77" width="3.70" height="22.93" fill="#ffffff" stroke="#000" stroke-width="1.75"/>
<line x1="135.64" y1="466.60" x2="135.64" y2="465.40" stroke="#000" stroke-width="1.8"/>
<line x1="133.64" y1="466.20" x2="137.64" y2="466.20" stroke="#000" stroke-width="1.6"/>
<rect x="133.79" y="467.48" width="3.70" height="26.22" fill="#d5d5d5" stroke="#000" stroke-width="1.75"/>
<line x1="142.31" y1="469.40" x2="142.31" y2="460.50" stroke="#000" stroke-width="1.8"/>
<line x1="140.31" y1="461.30" x2="144.31" y2="461.30" stroke="#000" stroke-width="1.6"/>
<rect x="140.47" y="470.27" width="3.70" height="23.43" fill="#777777" stroke="#000" stroke-width="1.75"/>
<rect x="147.13" y="477.77" width="3.70" height="15.93" fill="#2e2e2e" stroke="#000" stroke-width="1.75"/>
<line x1="138.90" y1="493.7" x2="138.90" y2="499.5" stroke="#000" stroke-width="1.5"/>
<text x="139.30" y="511.70" font-size="12.6" text-anchor="middle" font-weight="normal" stroke="#000" stroke-width="0.62" letter-spacing="0.8">3</text>
<line x1="192.8" y1="368.3" x2="192.8" y2="494.4" stroke="#000" stroke-width="1.6"/>
<line x1="192.8" y1="493.7" x2="318.1" y2="493.7" stroke="#000" stroke-width="1.5"/>
<line x1="188.0" y1="493.70" x2="192.8" y2="493.70" stroke="#000" stroke-width="1.6"/>
<text x="187.30" y="498.60" font-size="12.6" text-anchor="end" font-weight="normal" stroke="#000" stroke-width="0.62" letter-spacing="0.8">0</text>
<line x1="188.0" y1="452.13" x2="192.8" y2="452.13" stroke="#000" stroke-width="1.6"/>
<text x="187.30" y="457.03" font-size="12.6" text-anchor="end" font-weight="normal" stroke="#000" stroke-width="0.62" letter-spacing="0.8">20</text>
<line x1="188.0" y1="410.57" x2="192.8" y2="410.57" stroke="#000" stroke-width="1.6"/>
<text x="187.30" y="415.47" font-size="12.6" text-anchor="end" font-weight="normal" stroke="#000" stroke-width="0.62" letter-spacing="0.8">40</text>
<line x1="188.0" y1="369.00" x2="192.8" y2="369.00" stroke="#000" stroke-width="1.6"/>
<text x="187.30" y="373.90" font-size="12.6" text-anchor="end" font-weight="normal" stroke="#000" stroke-width="0.62" letter-spacing="0.8">60</text>
<text id="one12" x="253.80" y="378.80" font-size="15.3" text-anchor="middle" font-weight="normal" stroke="#000" stroke-width="0.1" >HoxA 0</text>
<path transform="translate(263.98,378.80) scale(0.00747,-0.00747)" d="M763 0L583 0L583 1110Q518 1050 413 990Q308 930 223 898L223 1066Q374 1135 487 1233Q600 1331 647 1409L763 1409Z" stroke="#000" stroke-width="13.4"/>
<line x1="198.28" y1="447.20" x2="198.28" y2="435.30" stroke="#000" stroke-width="1.8"/>
<line x1="196.28" y1="436.10" x2="200.28" y2="436.10" stroke="#000" stroke-width="1.6"/>
<rect x="196.43" y="448.07" width="3.70" height="45.62" fill="#ffffff" stroke="#000" stroke-width="1.75"/>
<line x1="204.94" y1="444.50" x2="204.94" y2="438.70" stroke="#000" stroke-width="1.8"/>
<line x1="202.94" y1="439.50" x2="206.94" y2="439.50" stroke="#000" stroke-width="1.6"/>
<rect x="203.09" y="445.38" width="3.70" height="48.32" fill="#d5d5d5" stroke="#000" stroke-width="1.75"/>
<line x1="211.62" y1="453.40" x2="211.62" y2="449.50" stroke="#000" stroke-width="1.8"/>
<line x1="209.62" y1="450.30" x2="213.62" y2="450.30" stroke="#000" stroke-width="1.6"/>
<rect x="209.77" y="454.27" width="3.70" height="39.43" fill="#777777" stroke="#000" stroke-width="1.75"/>
<line x1="218.28" y1="468.30" x2="218.28" y2="467.10" stroke="#000" stroke-width="1.8"/>
<line x1="216.28" y1="467.90" x2="220.28" y2="467.90" stroke="#000" stroke-width="1.6"/>
<rect x="216.44" y="469.18" width="3.70" height="24.52" fill="#2e2e2e" stroke="#000" stroke-width="1.75"/>
<line x1="208.20" y1="493.7" x2="208.20" y2="499.5" stroke="#000" stroke-width="1.5"/>
<text x="208.60" y="511.70" font-size="12.6" text-anchor="middle" font-weight="normal" stroke="#000" stroke-width="0.62" letter-spacing="0.8">(-)</text>
<line x1="229.28" y1="440.50" x2="229.28" y2="419.80" stroke="#000" stroke-width="1.8"/>
<line x1="227.28" y1="420.60" x2="231.28" y2="420.60" stroke="#000" stroke-width="1.6"/>
<rect x="227.43" y="441.38" width="3.70" height="52.32" fill="#ffffff" stroke="#000" stroke-width="1.75"/>
<line x1="235.94" y1="454.10" x2="235.94" y2="438.70" stroke="#000" stroke-width="1.8"/>
<line x1="233.94" y1="439.50" x2="237.94" y2="439.50" stroke="#000" stroke-width="1.6"/>
<rect x="234.09" y="454.98" width="3.70" height="38.72" fill="#d5d5d5" stroke="#000" stroke-width="1.75"/>
<line x1="242.62" y1="461.30" x2="242.62" y2="460.10" stroke="#000" stroke-width="1.8"/>
<line x1="240.62" y1="460.90" x2="244.62" y2="460.90" stroke="#000" stroke-width="1.6"/>
<rect x="240.77" y="462.18" width="3.70" height="31.52" fill="#777777" stroke="#000" stroke-width="1.75"/>
<line x1="249.28" y1="469.40" x2="249.28" y2="468.20" stroke="#000" stroke-width="1.8"/>
<line x1="247.28" y1="469.00" x2="251.28" y2="469.00" stroke="#000" stroke-width="1.6"/>
<rect x="247.44" y="470.27" width="3.70" height="23.43" fill="#2e2e2e" stroke="#000" stroke-width="1.75"/>
<line x1="239.20" y1="493.7" x2="239.20" y2="499.5" stroke="#000" stroke-width="1.5"/>
<text id="one13" x="239.60" y="511.70" font-size="12.6" text-anchor="middle" font-weight="normal" stroke="#000" stroke-width="0.62" letter-spacing="0.8"> </text>
<path transform="translate(235.69,511.70) scale(0.00615,-0.00615)" d="M763 0L583 0L583 1110Q518 1050 413 990Q308 930 223 898L223 1066Q374 1135 487 1233Q600 1331 647 1409L763 1409Z" stroke="#000" stroke-width="100.8"/>
<line x1="260.28" y1="447.20" x2="260.28" y2="427.90" stroke="#000" stroke-width="1.8"/>
<line x1="258.28" y1="428.70" x2="262.28" y2="428.70" stroke="#000" stroke-width="1.6"/>
<rect x="258.43" y="448.07" width="3.70" height="45.62" fill="#ffffff" stroke="#000" stroke-width="1.75"/>
<line x1="266.95" y1="434.50" x2="266.95" y2="416.60" stroke="#000" stroke-width="1.8"/>
<line x1="264.95" y1="417.40" x2="268.95" y2="417.40" stroke="#000" stroke-width="1.6"/>
<rect x="265.10" y="435.38" width="3.70" height="58.32" fill="#d5d5d5" stroke="#000" stroke-width="1.75"/>
<line x1="273.62" y1="465.00" x2="273.62" y2="463.80" stroke="#000" stroke-width="1.8"/>
<line x1="271.62" y1="464.60" x2="275.62" y2="464.60" stroke="#000" stroke-width="1.6"/>
<rect x="271.77" y="465.88" width="3.70" height="27.82" fill="#777777" stroke="#000" stroke-width="1.75"/>
<line x1="280.29" y1="467.60" x2="280.29" y2="466.40" stroke="#000" stroke-width="1.8"/>
<line x1="278.29" y1="467.20" x2="282.29" y2="467.20" stroke="#000" stroke-width="1.6"/>
<rect x="278.44" y="468.48" width="3.70" height="25.22" fill="#2e2e2e" stroke="#000" stroke-width="1.75"/>
<line x1="270.20" y1="493.7" x2="270.20" y2="499.5" stroke="#000" stroke-width="1.5"/>
<text x="270.60" y="511.70" font-size="12.6" text-anchor="middle" font-weight="normal" stroke="#000" stroke-width="0.62" letter-spacing="0.8">2</text>
<line x1="291.28" y1="451.00" x2="291.28" y2="449.60" stroke="#000" stroke-width="1.8"/>
<line x1="289.28" y1="450.40" x2="293.28" y2="450.40" stroke="#000" stroke-width="1.6"/>
<rect x="289.43" y="451.88" width="3.70" height="41.82" fill="#ffffff" stroke="#000" stroke-width="1.75"/>
<line x1="297.95" y1="439.40" x2="297.95" y2="428.30" stroke="#000" stroke-width="1.8"/>
<line x1="295.95" y1="429.10" x2="299.95" y2="429.10" stroke="#000" stroke-width="1.6"/>
<rect x="296.10" y="440.27" width="3.70" height="53.43" fill="#d5d5d5" stroke="#000" stroke-width="1.75"/>
<line x1="304.62" y1="460.00" x2="304.62" y2="456.40" stroke="#000" stroke-width="1.8"/>
<line x1="302.62" y1="457.20" x2="306.62" y2="457.20" stroke="#000" stroke-width="1.6"/>
<rect x="302.77" y="460.88" width="3.70" height="32.82" fill="#777777" stroke="#000" stroke-width="1.75"/>
<line x1="311.29" y1="467.20" x2="311.29" y2="466.00" stroke="#000" stroke-width="1.8"/>
<line x1="309.29" y1="466.80" x2="313.29" y2="466.80" stroke="#000" stroke-width="1.6"/>
<rect x="309.44" y="468.07" width="3.70" height="25.62" fill="#2e2e2e" stroke="#000" stroke-width="1.75"/>
<line x1="301.20" y1="493.7" x2="301.20" y2="499.5" stroke="#000" stroke-width="1.5"/>
<text x="301.60" y="511.70" font-size="12.6" text-anchor="middle" font-weight="normal" stroke="#000" stroke-width="0.62" letter-spacing="0.8">3</text>
<line x1="354.9" y1="368.3" x2="354.9" y2="494.4" stroke="#000" stroke-width="1.6"/>
<line x1="354.9" y1="493.7" x2="480.2" y2="493.7" stroke="#000" stroke-width="1.5"/>
<line x1="350.09999999999997" y1="493.70" x2="354.9" y2="493.70" stroke="#000" stroke-width="1.6"/>
<text x="349.40" y="498.60" font-size="12.6" text-anchor="end" font-weight="normal" stroke="#000" stroke-width="0.62" letter-spacing="0.8">0</text>
<line x1="350.09999999999997" y1="462.52" x2="354.9" y2="462.52" stroke="#000" stroke-width="1.6"/>
<text id="one14" x="349.40" y="467.42" font-size="12.6" text-anchor="end" font-weight="normal" stroke="#000" stroke-width="0.62" letter-spacing="0.8"> 0</text>
<path transform="translate(333.79,467.42) scale(0.00615,-0.00615)" d="M763 0L583 0L583 1110Q518 1050 413 990Q308 930 223 898L223 1066Q374 1135 487 1233Q600 1331 647 1409L763 1409Z" stroke="#000" stroke-width="100.8"/>
<line x1="350.09999999999997" y1="431.35" x2="354.9" y2="431.35" stroke="#000" stroke-width="1.6"/>
<text x="349.40" y="436.25" font-size="12.6" text-anchor="end" font-weight="normal" stroke="#000" stroke-width="0.62" letter-spacing="0.8">20</text>
<line x1="350.09999999999997" y1="400.18" x2="354.9" y2="400.18" stroke="#000" stroke-width="1.6"/>
<text x="349.40" y="405.07" font-size="12.6" text-anchor="end" font-weight="normal" stroke="#000" stroke-width="0.62" letter-spacing="0.8">30</text>
<line x1="350.09999999999997" y1="369.00" x2="354.9" y2="369.00" stroke="#000" stroke-width="1.6"/>
<text x="349.40" y="373.90" font-size="12.6" text-anchor="end" font-weight="normal" stroke="#000" stroke-width="0.62" letter-spacing="0.8">40</text>
<text id="one15" x="415.90" y="378.80" font-size="15.3" text-anchor="middle" font-weight="normal" stroke="#000" stroke-width="0.1" >HoxA  </text>
<path transform="translate(426.08,378.80) scale(0.00747,-0.00747)" d="M763 0L583 0L583 1110Q518 1050 413 990Q308 930 223 898L223 1066Q374 1135 487 1233Q600 1331 647 1409L763 1409Z" stroke="#000" stroke-width="13.4"/><path transform="translate(434.60,378.80) scale(0.00747,-0.00747)" d="M763 0L583 0L583 1110Q518 1050 413 990Q308 930 223 898L223 1066Q374 1135 487 1233Q600 1331 647 1409L763 1409Z" stroke="#000" stroke-width="13.4"/>
<line x1="360.38" y1="431.70" x2="360.38" y2="417.30" stroke="#000" stroke-width="1.8"/>
<line x1="358.38" y1="418.10" x2="362.38" y2="418.10" stroke="#000" stroke-width="1.6"/>
<rect x="358.52" y="432.57" width="3.70" height="61.12" fill="#ffffff" stroke="#000" stroke-width="1.75"/>
<line x1="367.04" y1="447.20" x2="367.04" y2="435.60" stroke="#000" stroke-width="1.8"/>
<line x1="365.04" y1="436.40" x2="369.04" y2="436.40" stroke="#000" stroke-width="1.6"/>
<rect x="365.19" y="448.07" width="3.70" height="45.62" fill="#d5d5d5" stroke="#000" stroke-width="1.75"/>
<line x1="373.71" y1="449.20" x2="373.71" y2="446.10" stroke="#000" stroke-width="1.8"/>
<line x1="371.71" y1="446.90" x2="375.71" y2="446.90" stroke="#000" stroke-width="1.6"/>
<rect x="371.86" y="450.07" width="3.70" height="43.62" fill="#777777" stroke="#000" stroke-width="1.75"/>
<line x1="380.38" y1="453.80" x2="380.38" y2="450.70" stroke="#000" stroke-width="1.8"/>
<line x1="378.38" y1="451.50" x2="382.38" y2="451.50" stroke="#000" stroke-width="1.6"/>
<rect x="378.53" y="454.68" width="3.70" height="39.02" fill="#2e2e2e" stroke="#000" stroke-width="1.75"/>
<line x1="370.30" y1="493.7" x2="370.30" y2="499.5" stroke="#000" stroke-width="1.5"/>
<text x="370.70" y="511.70" font-size="12.6" text-anchor="middle" font-weight="normal" stroke="#000" stroke-width="0.62" letter-spacing="0.8">(-)</text>
<line x1="391.38" y1="451.40" x2="391.38" y2="436.80" stroke="#000" stroke-width="1.8"/>
<line x1="389.38" y1="437.60" x2="393.38" y2="437.60" stroke="#000" stroke-width="1.6"/>
<rect x="389.52" y="452.27" width="3.70" height="41.43" fill="#ffffff" stroke="#000" stroke-width="1.75"/>
<line x1="398.04" y1="461.10" x2="398.04" y2="448.70" stroke="#000" stroke-width="1.8"/>
<line x1="396.04" y1="449.50" x2="400.04" y2="449.50" stroke="#000" stroke-width="1.6"/>
<rect x="396.19" y="461.98" width="3.70" height="31.72" fill="#d5d5d5" stroke="#000" stroke-width="1.75"/>
<line x1="404.71" y1="456.00" x2="404.71" y2="455.00" stroke="#000" stroke-width="1.8"/>
<line x1="402.71" y1="455.80" x2="406.71" y2="455.80" stroke="#000" stroke-width="1.6"/>
<rect x="402.86" y="456.88" width="3.70" height="36.82" fill="#777777" stroke="#000" stroke-width="1.75"/>
<line x1="411.38" y1="458.50" x2="411.38" y2="455.70" stroke="#000" stroke-width="1.8"/>
<line x1="409.38" y1="456.50" x2="413.38" y2="456.50" stroke="#000" stroke-width="1.6"/>
<rect x="409.53" y="459.38" width="3.70" height="34.32" fill="#2e2e2e" stroke="#000" stroke-width="1.75"/>
<line x1="401.30" y1="493.7" x2="401.30" y2="499.5" stroke="#000" stroke-width="1.5"/>
<text id="one16" x="401.70" y="511.70" font-size="12.6" text-anchor="middle" font-weight="normal" stroke="#000" stroke-width="0.62" letter-spacing="0.8"> </text>
<path transform="translate(397.79,511.70) scale(0.00615,-0.00615)" d="M763 0L583 0L583 1110Q518 1050 413 990Q308 930 223 898L223 1066Q374 1135 487 1233Q600 1331 647 1409L763 1409Z" stroke="#000" stroke-width="100.8"/>
<line x1="422.38" y1="449.50" x2="422.38" y2="434.80" stroke="#000" stroke-width="1.8"/>
<line x1="420.38" y1="435.60" x2="424.38" y2="435.60" stroke="#000" stroke-width="1.6"/>
<rect x="420.52" y="450.38" width="3.70" height="43.32" fill="#ffffff" stroke="#000" stroke-width="1.75"/>
<line x1="429.04" y1="441.80" x2="429.04" y2="439.00" stroke="#000" stroke-width="1.8"/>
<line x1="427.04" y1="439.80" x2="431.04" y2="439.80" stroke="#000" stroke-width="1.6"/>
<rect x="427.19" y="442.68" width="3.70" height="51.02" fill="#d5d5d5" stroke="#000" stroke-width="1.75"/>
<line x1="435.71" y1="454.10" x2="435.71" y2="448.70" stroke="#000" stroke-width="1.8"/>
<line x1="433.71" y1="449.50" x2="437.71" y2="449.50" stroke="#000" stroke-width="1.6"/>
<rect x="433.86" y="454.98" width="3.70" height="38.72" fill="#777777" stroke="#000" stroke-width="1.75"/>
<line x1="442.38" y1="462.60" x2="442.38" y2="461.40" stroke="#000" stroke-width="1.8"/>
<line x1="440.38" y1="462.20" x2="444.38" y2="462.20" stroke="#000" stroke-width="1.6"/>
<rect x="440.53" y="463.48" width="3.70" height="30.22" fill="#2e2e2e" stroke="#000" stroke-width="1.75"/>
<line x1="432.30" y1="493.7" x2="432.30" y2="499.5" stroke="#000" stroke-width="1.5"/>
<text x="432.70" y="511.70" font-size="12.6" text-anchor="middle" font-weight="normal" stroke="#000" stroke-width="0.62" letter-spacing="0.8">2</text>
<line x1="453.38" y1="453.90" x2="453.38" y2="452.70" stroke="#000" stroke-width="1.8"/>
<line x1="451.38" y1="453.50" x2="455.38" y2="453.50" stroke="#000" stroke-width="1.6"/>
<rect x="451.52" y="454.77" width="3.70" height="38.93" fill="#ffffff" stroke="#000" stroke-width="1.75"/>
<line x1="460.04" y1="445.10" x2="460.04" y2="443.90" stroke="#000" stroke-width="1.8"/>
<line x1="458.04" y1="444.70" x2="462.04" y2="444.70" stroke="#000" stroke-width="1.6"/>
<rect x="458.19" y="445.98" width="3.70" height="47.72" fill="#d5d5d5" stroke="#000" stroke-width="1.75"/>
<line x1="466.71" y1="456.50" x2="466.71" y2="451.00" stroke="#000" stroke-width="1.8"/>
<line x1="464.71" y1="451.80" x2="468.71" y2="451.80" stroke="#000" stroke-width="1.6"/>
<rect x="464.86" y="457.38" width="3.70" height="36.32" fill="#777777" stroke="#000" stroke-width="1.75"/>
<line x1="473.38" y1="452.60" x2="473.38" y2="447.60" stroke="#000" stroke-width="1.8"/>
<line x1="471.38" y1="448.40" x2="475.38" y2="448.40" stroke="#000" stroke-width="1.6"/>
<rect x="471.53" y="453.48" width="3.70" height="40.22" fill="#2e2e2e" stroke="#000" stroke-width="1.75"/>
<line x1="463.30" y1="493.7" x2="463.30" y2="499.5" stroke="#000" stroke-width="1.5"/>
<text x="463.70" y="511.70" font-size="12.6" text-anchor="middle" font-weight="normal" stroke="#000" stroke-width="0.62" letter-spacing="0.8">3</text>
</svg>
</body></html>
